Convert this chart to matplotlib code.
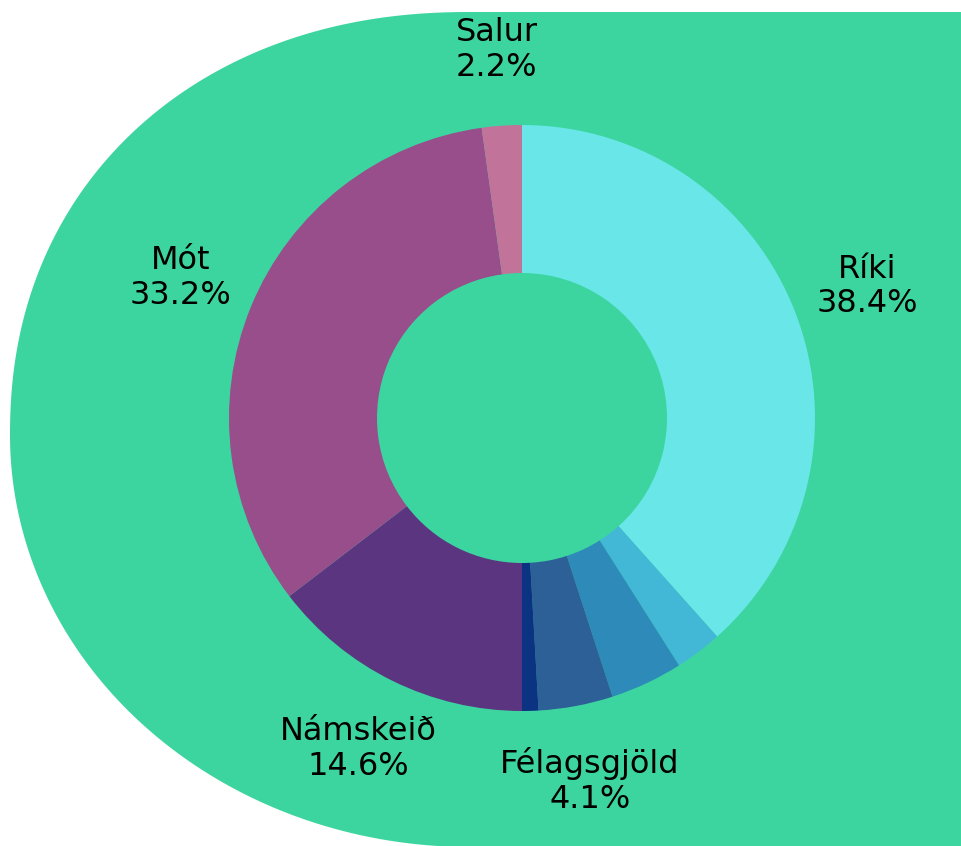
import matplotlib.pyplot as plt
import numpy as np
from matplotlib.patches import Polygon

# slices clockwise from 12 o'clock
categories = ['Ríki', '', '', 'Félagsgjöld', '', 'Námskeið', 'Mót', 'Salur']
values = [38.4, 2.6, 4.0, 4.1, 0.9, 14.6, 33.2, 2.2]
show_label = [True, False, False, True, False, True, True, True]
colors = ['#68e6e8', '#42b8d6', '#2d8ab9', '#2e6098', '#0c3282',
          '#5c3581', '#974e8b', '#c2739a']

bg_green = '#3cd59f'

fig = plt.figure(figsize=(9.61, 8.46), dpi=100)
ax = fig.add_axes([0, 0, 1, 1])

# green backdrop: rounded left side (a bit boxy on top), square right side
bx, by, ba = 470, 846 - 435, 460
n = 2.15
t_top = np.linspace(np.pi / 2, np.pi, 150)
t_bot = np.linspace(np.pi, 1.5 * np.pi, 150)
top_x = bx - ba * np.abs(np.cos(t_top)) ** (2 / n)
top_y = by + 423 * np.abs(np.sin(t_top)) ** (2 / n)
bot_x = bx + ba * np.cos(t_bot)
bot_y = by + 412 * np.sin(t_bot)
xs = np.concatenate([[1000], top_x, bot_x, [1000]])
ys = np.concatenate([[by + 423], top_y, bot_y, [by - 412]])
ax.add_patch(Polygon(np.column_stack([xs, ys]), closed=True, color=bg_green,
                     lw=0, zorder=0))

cx, cy, R = 522, 428, 293
wedges, _ = ax.pie(values, colors=colors, startangle=90, counterclock=False,
                   radius=R, center=(cx, cy),
                   wedgeprops=dict(width=R - 145, linewidth=0))

for w, lab, v, show in zip(wedges, categories, values, show_label):
    if not show:
        continue
    mid = np.deg2rad((w.theta1 + w.theta2) / 2)
    r = R * 1.26
    ax.text(cx + r * np.cos(mid), cy + r * np.sin(mid), f'{lab}\n{v:.1f}%',
            ha='center', va='center', fontsize=23, family='DejaVu Sans',
            linespacing=1.15, color='black')

# pie() resets the limits, so set them afterwards
ax.set_xlim(0, 961)
ax.set_ylim(0, 846)
ax.set_aspect('equal')
ax.axis('off')

fig.savefig('out.png', dpi=100)
